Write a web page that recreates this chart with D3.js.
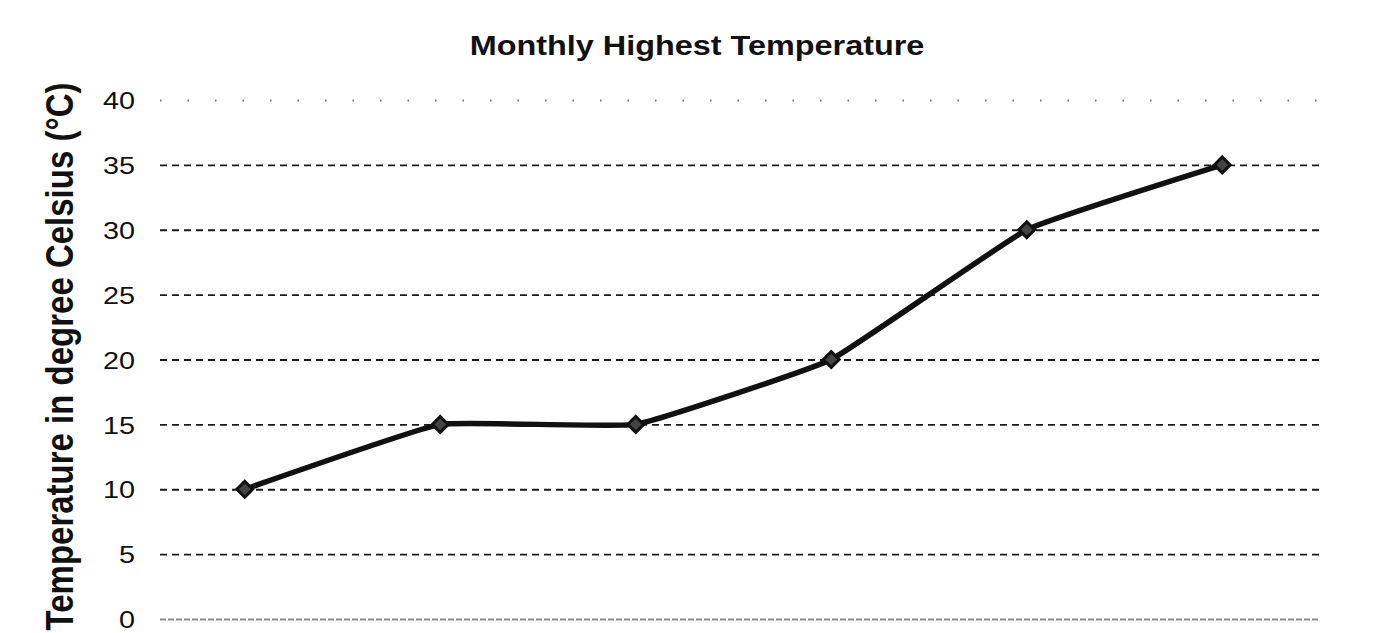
<!DOCTYPE html>
<html>
<head>
<meta charset="utf-8">
<script src="https://cdn.jsdelivr.net/npm/d3@7"></script>
<style>
  html, body { margin: 0; padding: 0; background: #fff; }
  svg { display: block; }
</style>
</head>
<body>
<div id="chart"></div>
<script>
// data (the months carry no labels in the original)
const months = ['M1', 'M2', 'M3', 'M4', 'M5', 'M6']
const highest = [10, 15, 15, 20, 30, 35]
const yTicks = [0, 5, 10, 15, 20, 25, 30, 35, 40]

const width = 1377
const height = 633
const margin = { top: 100, right: 57, bottom: 14, left: 147 }
// the scan is stretched sideways, so text gets a horizontal stretch factor
const stretch = 1.2

const svg = d3.select('#chart')
  .append('svg')
  .attr('width', width)
  .attr('height', height)
  .attr('viewBox', [0, 0, width, height].join(' '))
  .style('font-family', 'Liberation Sans, Arial, sans-serif')

const x = d3.scalePoint()
  .domain(months)
  .range([margin.left, width - margin.right])
  .padding(0.5)

const y = d3.scaleLinear()
  .domain([0, 40])
  .range([height - margin.bottom, margin.top])

const gridLeft = 160

// grid + tick labels
const yAxis = g => g
  .attr('transform', `translate(${gridLeft},0)`)
  .call(
    d3.axisLeft(y)
      .tickValues(yTicks)
      .tickSize(-(width - margin.right - gridLeft))
  )
  .call(g => g.select('.domain').remove())
  .call(g => g.selectAll('line')
    .attr('stroke', '#1a1a1a')
    .attr('stroke-width', 1.8)
    .attr('stroke-dasharray', d => d === 40 ? '1.5,26' : d === 0 ? '6,2' : '7,5')
    .attr('stroke-opacity', d => d === 40 ? 0.6 : d === 0 ? 0.5 : 1))
  .call(g => g.selectAll('text')
    .attr('x', 0)
    .attr('dy', '0.36em')
    .attr('transform', `translate(-25,0) scale(${stretch},1)`)
    .attr('fill', '#111')
    .style('font-size', '24px'))

svg.append('g').attr('class', 'y').call(yAxis)

// title
svg.append('text')
  .attr('transform', `translate(697,55) scale(${stretch},1)`)
  .attr('text-anchor', 'middle')
  .style('font-size', '27px')
  .style('font-weight', 'bold')
  .attr('fill', '#111')
  .text('Monthly Highest Temperature')

// y label
svg.append('text')
  .attr('transform', `translate(73,${(y(0) + y(40)) / 2 - 3}) rotate(-90) scale(1,${stretch})`)
  .attr('text-anchor', 'middle')
  .style('font-size', '33px')
  .style('font-weight', 'bold')
  .attr('fill', '#111')
  .text('Temperature in degree Celsius (°C)')

// line, lightly smoothed like the original
const line = d3.line()
  .x((d, i) => x(months[i]))
  .y(d => y(d))
  .curve(d3.curveCardinal.tension(0.7))

svg.append('path')
  .datum(highest)
  .attr('fill', 'none')
  .attr('stroke', '#111')
  .attr('stroke-width', 5.5)
  .attr('stroke-linejoin', 'round')
  .attr('d', line)

// diamond markers
svg.append('g')
  .selectAll('path')
  .data(highest)
  .join('path')
  .attr('transform', (d, i) => `translate(${x(months[i])},${y(d)})`)
  .attr('d', d3.symbol(d3.symbolDiamond2, 160))
  .attr('fill', '#444')
  .attr('stroke', '#111')
  .attr('stroke-width', 3)
</script>
</body>
</html>
